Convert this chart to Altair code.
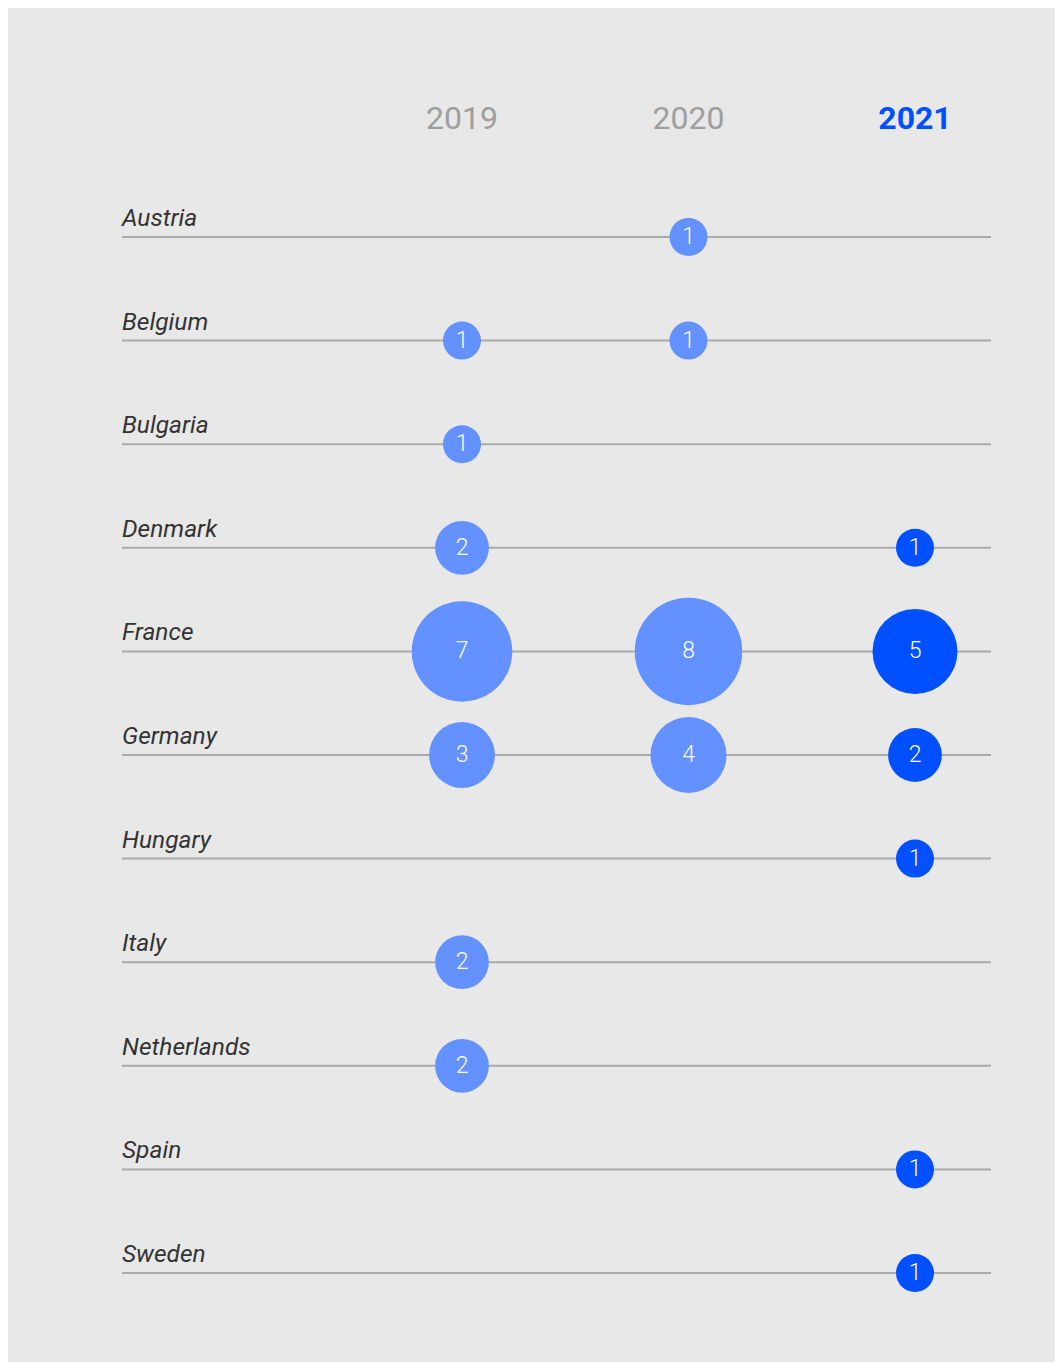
import altair as alt
import pandas as pd

countries = ["Austria", "Belgium", "Bulgaria", "Denmark", "France", "Germany",
             "Hungary", "Italy", "Netherlands", "Spain", "Sweden"]
years = [2019, 2020, 2021]
# counts per country for 2019, 2020, 2021 (0 = none)
v2019 = [0, 1, 1, 2, 7, 3, 0, 2, 2, 0, 0]
v2020 = [1, 1, 0, 0, 8, 4, 0, 0, 0, 0, 0]
v2021 = [0, 0, 0, 1, 5, 2, 1, 0, 0, 1, 1]

rows = []
for yr, vals in zip(years, [v2019, v2020, v2021]):
    for i, (c, v) in enumerate(zip(countries, vals)):
        if v > 0:
            rows.append({"country": c, "idx": i, "year": yr, "value": v, "yearLabel": str(yr)})
df = pd.DataFrame(rows)
cdf = pd.DataFrame({"country": countries, "idx": list(range(len(countries)))})
ydf = pd.DataFrame({"year": years, "label": [str(y) for y in years]})

LIGHT = "#6391ff"
DARK = "#0050ff"

W, H = 1047, 1354
XSTEP = 226.5
xlo = 2019 - 454 / XSTEP
xhi = xlo + W / XSTEP
STEP = 103.6
lo = -229 / STEP
hi = lo + H / STEP

xscale = alt.Scale(domain=[xlo, xhi], nice=False, zero=False)
yscale = alt.Scale(domain=[lo, hi], nice=False, zero=False, reverse=True)

base_x = alt.X("year:Q", scale=xscale, axis=None)
base_y = alt.Y("idx:Q", scale=yscale, axis=None)

lines = alt.Chart(cdf).mark_rule(color="#aaaaaa", strokeWidth=2).encode(
    y=base_y, x=alt.value(114), x2=alt.value(983)
)
labels = alt.Chart(cdf).mark_text(
    align="left", baseline="alphabetic", dy=-11, fontSize=24.5,
    fontStyle="italic", font="Roboto", color="#333333"
).encode(y=base_y, x=alt.value(114), text="country:N")

circles = alt.Chart(df).mark_circle(opacity=1).encode(
    x=base_x, y=base_y,
    size=alt.Size("value:Q", scale=alt.Scale(type="linear", domain=[0, 8], range=[0, 1444 * 8]), legend=None),
    color=alt.Color("yearLabel:N", scale=alt.Scale(domain=["2019", "2020", "2021"], range=[LIGHT, LIGHT, DARK]), legend=None),
)
nums = alt.Chart(df).mark_text(
    fontSize=23, font="Roboto", fontWeight=300, color="white", baseline="middle", align="center"
).encode(x=base_x, y=base_y, text="value:Q")

hdr_old = alt.Chart(ydf[ydf.year < 2021]).mark_text(
    fontSize=32, font="Roboto", color="#9e9e9e", baseline="middle", align="center"
).encode(x=base_x, y=alt.value(111), text="label:N")
hdr_new = alt.Chart(ydf[ydf.year == 2021]).mark_text(
    fontSize=32, font="Roboto", fontWeight="bold", color=DARK, baseline="middle", align="center"
).encode(x=base_x, y=alt.value(111), text="label:N")

chart = alt.layer(lines, labels, circles, nums, hdr_old, hdr_new).properties(
    width=W, height=H,
    autosize=alt.AutoSizeParams(type="fit", contains="padding"),
    padding=0, background="#e8e8e8"
).configure_view(stroke=None)

chart.save("out.html", embed_options={"renderer": "svg", "actions": False})
